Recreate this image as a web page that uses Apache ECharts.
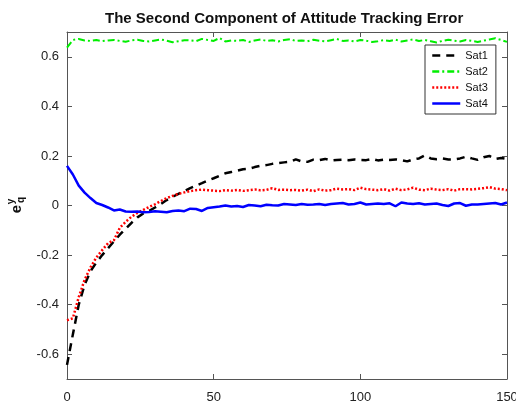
<!DOCTYPE html>
<html>
<head>
<meta charset="utf-8">
<script src="https://cdn.jsdelivr.net/npm/echarts@6/dist/echarts.min.js"></script>
<style>
  html, body { margin: 0; padding: 0; background: #fff; }
  #chart { width: 516px; height: 403px; }
</style>
</head>
<body>
<div id="chart"></div>
<script>
const time = [0,2,4,6,8,10,12,14,16,18,20,22,24,26,28,30,32,34,36,38,40,42,44,46,48,50,52,54,56,58,
  60,62,64,66,68,70,72,74,76,78,80,82,84,86,88,90,92,94,96,98,100,102,104,106,108,110,112,114,116,118,
  120,122,124,126,128,130,132,134,136,138,140,142,144,146,148,150]

const sat1 = [-0.643,-0.52,-0.40,-0.32,-0.265,-0.23,-0.20,-0.172,-0.145,-0.118,
  -0.094,-0.07,-0.048,-0.032,-0.022,-0.008,0.006,0.022,0.035,0.047,
  0.058,0.07,0.08,0.09,0.101,0.11,0.12,0.13,0.135,0.14,
  0.146,0.148,0.155,0.16,0.163,0.168,0.171,0.174,0.176,0.186,
  0.178,0.176,0.185,0.183,0.188,0.182,0.184,0.185,0.183,0.186,
  0.184,0.183,0.188,0.182,0.185,0.184,0.186,0.183,0.178,0.186,
  0.19,0.202,0.19,0.187,0.19,0.186,0.186,0.19,0.197,0.19,
  0.184,0.195,0.2,0.188,0.192,0.188]

const sat2 = [0.637,0.668,0.672,0.666,0.664,0.668,0.663,0.666,0.668,0.664,
  0.661,0.666,0.669,0.664,0.662,0.666,0.670,0.665,0.659,0.663,
  0.667,0.666,0.663,0.672,0.668,0.664,0.676,0.662,0.666,0.664,
  0.668,0.660,0.666,0.670,0.664,0.667,0.662,0.668,0.671,0.664,
  0.666,0.663,0.669,0.665,0.662,0.667,0.672,0.664,0.666,0.662,
  0.668,0.665,0.660,0.663,0.667,0.664,0.669,0.662,0.666,0.670,
  0.664,0.668,0.663,0.658,0.664,0.669,0.665,0.662,0.668,0.664,
  0.660,0.665,0.670,0.675,0.668,0.660]

const sat3 = [-0.463,-0.455,-0.37,-0.30,-0.25,-0.21,-0.18,-0.152,-0.14,-0.09,
  -0.066,-0.045,-0.03,-0.018,-0.006,0.005,0.018,0.03,0.039,0.047,
  0.053,0.058,0.062,0.064,0.062,0.06,0.058,0.062,0.06,0.063,
  0.059,0.062,0.065,0.061,0.063,0.07,0.063,0.064,0.062,0.063,
  0.06,0.064,0.058,0.065,0.06,0.062,0.068,0.065,0.066,0.062,
  0.072,0.066,0.064,0.062,0.066,0.06,0.068,0.062,0.065,0.072,
  0.064,0.062,0.068,0.064,0.062,0.066,0.06,0.066,0.066,0.065,
  0.067,0.07,0.074,0.068,0.066,0.062]

const sat4 = [0.16,0.125,0.08,0.052,0.03,0.01,0.002,-0.008,-0.02,-0.016,
  -0.024,-0.025,-0.024,-0.027,-0.026,-0.023,-0.025,-0.027,-0.022,-0.02,
  -0.023,-0.013,-0.014,-0.022,-0.01,-0.007,-0.004,0.0,-0.004,-0.002,
  -0.006,0.002,0.0,-0.003,0.003,0.001,0.0,0.006,0.004,0.002,
  0.006,0.003,0.004,0.006,0.002,0.006,0.008,0.01,0.004,0.006,
  0.012,0.004,0.006,0.008,0.006,0.009,-0.003,0.012,0.008,0.006,
  0.009,0.004,0.006,0.008,0.002,-0.002,0.008,0.01,-0.001,0.004,
  0.004,0.006,0.008,0.01,0.004,0.012]

const yTicks = [-0.6, -0.4, -0.2, 0, 0.2, 0.4, 0.6]

const font = '"Liberation Sans", Arial, Helvetica, sans-serif'
const axisColor = '#555'

const pairs = (values) => time.map((t, i) => [t, values[i]])

const xAxisBase = (position, showLabel) => ({
  type: 'value',
  position,
  min: 0,
  max: 150,
  interval: 50,
  splitLine: { show: false },
  axisLine: { show: true, onZero: false, lineStyle: { color: axisColor, width: 1 } },
  axisTick: { show: true, inside: true, length: 5, lineStyle: { color: axisColor } },
  axisLabel: { show: showLabel, fontFamily: font, fontSize: 13, color: '#222', margin: 12 }
})

const yAxisBase = (position, showLabel) => ({
  type: 'value',
  position,
  min: -0.7,
  max: 0.7,
  splitLine: { show: false },
  axisLine: { show: true, onZero: false, lineStyle: { color: axisColor, width: 1 } },
  axisTick: { show: true, inside: true, length: 5, customValues: yTicks, lineStyle: { color: axisColor } },
  axisLabel: { show: showLabel, customValues: yTicks, fontFamily: font, fontSize: 13, color: '#222', margin: 8 }
})

const lineSeries = (name, values, color, type, width) => ({
  name,
  type: 'line',
  data: pairs(values),
  symbol: 'none',
  silent: true,
  animation: false,
  lineStyle: { color, width, type, cap: 'butt' },
  itemStyle: { color }
})

const chart = echarts.init(document.getElementById('chart'))

chart.setOption({
  animation: false,
  backgroundColor: '#fff',
  title: {
    text: 'The Second Component of Attitude Tracking Error',
    left: 105,
    top: 11,
    padding: 0,
    textStyle: { fontFamily: font, fontSize: 15, fontWeight: 'bold', color: '#111' }
  },
  grid: { left: 67, right: 9, top: 32, bottom: 24, containLabel: false, outerBoundsMode: 'none' },
  legend: {
    orient: 'vertical',
    left: 425,
    top: 45,
    padding: [5, 8, 5, 6],
    itemWidth: 28,
    itemHeight: 12,
    itemGap: 5,
    backgroundColor: '#fff',
    borderColor: '#333',
    borderWidth: 1,
    borderRadius: 0,
    itemStyle: { opacity: 0 },
    lineStyle: { width: 2.5 },
    textStyle: { fontFamily: font, fontSize: 11, color: '#111' },
    data: ['Sat1', 'Sat2', 'Sat3', 'Sat4']
  },
  xAxis: [xAxisBase('bottom', true), xAxisBase('top', false)],
  yAxis: [yAxisBase('left', true), yAxisBase('right', false)],
  series: [
    lineSeries('Sat1', sat1, '#000000', [8, 6], 2.5),
    lineSeries('Sat2', sat2, '#00ee00', [7, 3, 2, 3], 2),
    lineSeries('Sat3', sat3, '#ff0000', [2, 2], 2.5),
    lineSeries('Sat4', sat4, '#0000ff', 'solid', 2.5)
  ],
  graphic: [
    {
      type: 'group',
      x: 20,
      y: 208,
      rotation: Math.PI / 2,
      children: [
        { type: 'text', x: -1, y: -3.5, style: { text: 'e', font: 'bold 15px ' + font, fill: '#111', align: 'center', verticalAlign: 'middle' } },
        { type: 'text', x: 6.5, y: -8.5, style: { text: 'y', font: 'bold 10px ' + font, fill: '#111', align: 'center', verticalAlign: 'middle' } },
        { type: 'text', x: 8, y: 1.5, style: { text: 'q', font: 'bold 10px ' + font, fill: '#111', align: 'center', verticalAlign: 'middle' } }
      ]
    }
  ]
})
</script>
</body>
</html>
